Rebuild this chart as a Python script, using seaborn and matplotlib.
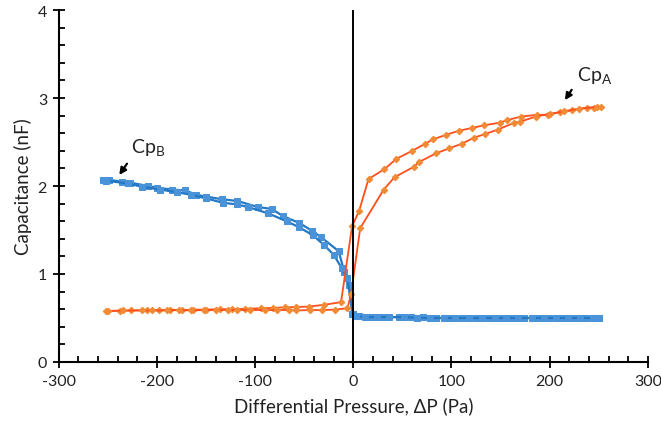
import numpy as np
import pandas as pd
import matplotlib
matplotlib.use("Agg")
import matplotlib.pyplot as plt
from matplotlib.ticker import MultipleLocator
import seaborn as sns

# ---- data ----
cpb_up_x = [-255, -249, -236, -228, -209, -200, -185, -171, -160, -150, -134, -118, -97, -83, -72,
            -55, -42, -33, -15, -9, -4, 0, 6, 18, 30, 47, 59, 71, 84, 98, 111, 125, 138, 149, 162,
            174, 188, 199, 213, 225, 237, 247]
cpb_up_y = [2.07, 2.07, 2.05, 2.04, 2.00, 1.98, 1.96, 1.95, 1.90, 1.88, 1.85, 1.83, 1.76, 1.74, 1.66,
            1.58, 1.49, 1.42, 1.26, 1.02, 0.88, 0.55, 0.52, 0.51, 0.51, 0.51, 0.51, 0.51, 0.50, 0.50,
            0.50, 0.50, 0.50, 0.50, 0.50, 0.50, 0.50, 0.50, 0.50, 0.50, 0.50, 0.50]
cpb_dn_x = [-252, -230, -215, -197, -180, -165, -150, -133, -118, -107, -87, -68, -55, -41, -30, -20,
            -12, -6, -1, 3, 12, 24, 36, 52, 65, 78, 92, 104, 118, 131, 144, 156, 168, 182, 194, 206,
            219, 231, 244, 250]
cpb_dn_y = [2.06, 2.03, 1.99, 1.96, 1.93, 1.90, 1.86, 1.81, 1.79, 1.76, 1.69, 1.60, 1.53, 1.44, 1.33,
            1.22, 1.07, 0.95, 0.55, 0.52, 0.51, 0.51, 0.51, 0.51, 0.50, 0.50, 0.50, 0.50, 0.50, 0.50,
            0.50, 0.50, 0.50, 0.50, 0.50, 0.50, 0.50, 0.50, 0.50, 0.50]

cpa_up_x = [-252, -238, -226, -210, -198, -187, -175, -163, -150, -136, -124, -110, -94, -82, -70,
            -58, -45, -29.5, -12.5, -1.3, 6, 15.5, 31.5, 44, 60, 73, 81, 94, 108, 121, 133, 149, 157,
            171, 187.5, 198, 211, 223, 238, 245, 252]
cpa_up_y = [0.58, 0.58, 0.585, 0.59, 0.59, 0.595, 0.59, 0.595, 0.595, 0.60, 0.60, 0.605, 0.61, 0.615,
            0.62, 0.625, 0.63, 0.65, 0.68, 1.54, 1.72, 2.08, 2.19, 2.31, 2.40, 2.48, 2.53, 2.58, 2.63,
            2.66, 2.69, 2.72, 2.75, 2.79, 2.81, 2.81, 2.84, 2.86, 2.89, 2.89, 2.90]
cpa_dn_x = [-250, -235, -215, -205, -190, -178, -165, -152, -140, -128, -118, -105, -90, -78, -66,
            -58, -44, -32, -19, -6, -2.3, 7, 31, 42, 62, 66.5, 84, 98, 110.5, 123, 134, 147, 164,
            169.6, 186, 200, 215, 230, 248]
cpa_dn_y = [0.58, 0.585, 0.585, 0.585, 0.585, 0.59, 0.585, 0.59, 0.59, 0.59, 0.59, 0.59, 0.59, 0.59,
            0.59, 0.585, 0.59, 0.59, 0.595, 0.61, 0.77, 1.52, 1.96, 2.10, 2.22, 2.27, 2.37, 2.43, 2.48,
            2.55, 2.59, 2.64, 2.72, 2.73, 2.79, 2.82, 2.85, 2.88, 2.90]

x_ticks = [-300, -200, -100, 0, 100, 200, 300]
y_ticks = [0, 1, 2, 3, 4]

sns.set_style("ticks")
plt.rcParams['font.family'] = ['Lato', 'DejaVu Sans']

fig = plt.figure(figsize=(6.61, 4.27), dpi=100)
ax = fig.add_axes([0.089, 0.150, 0.891, 0.824])

blue_line, blue_mk = "#2479c6", "#4a93d8"
or_line, or_mk = "#ff4f1c", "#f08a35"

for xs, ys in [(cpb_up_x, cpb_up_y), (cpb_dn_x, cpb_dn_y)]:
    sns.lineplot(x=xs, y=ys, sort=False, ax=ax, color=blue_line, lw=1.6,
                 marker='s', markersize=5, markerfacecolor=blue_mk, markeredgecolor=blue_mk,
                 zorder=3)
for xs, ys in [(cpa_up_x, cpa_up_y), (cpa_dn_x, cpa_dn_y)]:
    sns.lineplot(x=xs, y=ys, sort=False, ax=ax, color=or_line, lw=1.3,
                 marker='D', markersize=3.3, markerfacecolor=or_mk, markeredgecolor=or_mk,
                 zorder=4)

ax.axvline(0, color='black', lw=1.4, zorder=5)

ax.set_xlim(-300, 300)
ax.set_ylim(0, 4)
ax.set_xticks(x_ticks)
ax.set_yticks(y_ticks)
ax.set_xticklabels([str(v) for v in x_ticks])
ax.set_yticklabels([str(v) for v in y_ticks])
ax.xaxis.set_minor_locator(MultipleLocator(20))
ax.yaxis.set_minor_locator(MultipleLocator(0.2))
ax.tick_params(axis='both', which='major', direction='inout', length=9, width=1.3,
               labelsize=11.5, colors='black', labelcolor='#222222', pad=4)
ax.tick_params(axis='both', which='minor', direction='in', length=4.5, width=1.3, colors='black')
for s in ['top', 'right']:
    ax.spines[s].set_visible(False)
for s in ['left', 'bottom']:
    ax.spines[s].set_linewidth(1.5)
    ax.spines[s].set_color('black')

ax.set_xlabel("Differential Pressure, \u0394P (Pa)", fontsize=13.5, color='#222222', labelpad=6)
ax.set_ylabel("Capacitance (nF)", fontsize=13.5, color='#222222', labelpad=4)

ax.annotate("", xy=(-240, 2.1), xytext=(-229, 2.28),
            arrowprops=dict(arrowstyle='-|>', color='black', lw=1.6, mutation_scale=10))
ax.text(-226, 2.38, "Cp$_\\mathregular{B}$", fontsize=14, color='#222222')
ax.annotate("", xy=(214, 2.95), xytext=(224, 3.12),
            arrowprops=dict(arrowstyle='-|>', color='black', lw=1.6, mutation_scale=10))
ax.text(228, 3.2, "Cp$_\\mathregular{A}$", fontsize=14, color='#222222')

fig.savefig("out.png", dpi=100)
